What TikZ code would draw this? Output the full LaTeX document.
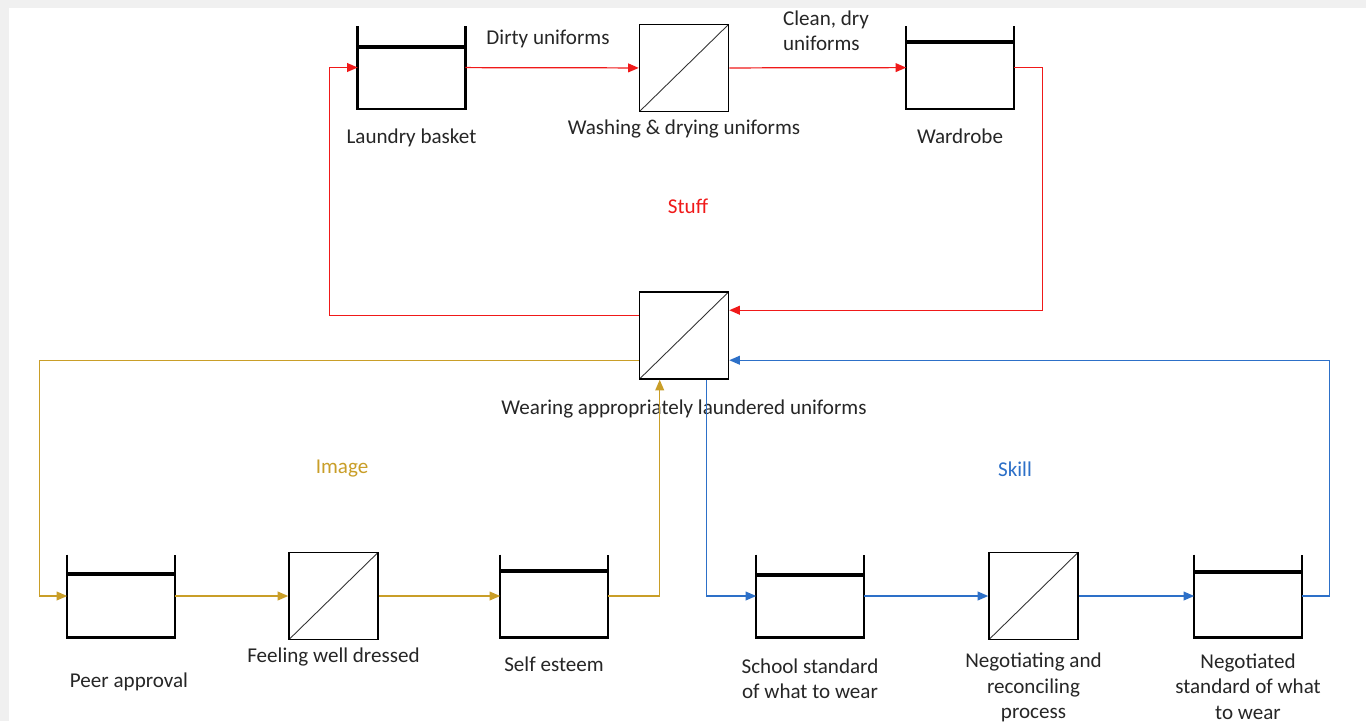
\documentclass[tikz,border=0pt,12pt]{standalone}
\usepackage{fontspec}
\setmainfont{Carlito}
\usetikzlibrary{positioning,arrows.meta}
\definecolor{stuffred}{RGB}{240,25,25}
\definecolor{imagegold}{RGB}{201,158,40}
\definecolor{skillblue}{RGB}{45,112,200}
\definecolor{pagegray}{RGB}{240,240,240}
\definecolor{labelgray}{RGB}{38,38,38}

\tikzset{
  stock/.style={minimum width=2.14cm, minimum height=1.64cm, inner sep=0pt,
    append after command={\pgfextra{\let\stocknode\tikzlastnode
      \draw[line width=1.4pt] (\stocknode.north west) -- (\stocknode.south west) -- (\stocknode.south east) -- (\stocknode.north east);
      \draw[line width=2.2pt] ([yshift=-#1]\stocknode.north west) -- ([yshift=-#1]\stocknode.north east);}}},
  stock/.default=0.38cm,
  valve/.style={draw, line width=0.9pt, minimum width=1.78cm, minimum height=1.74cm, inner sep=0pt,
    path picture={\draw[line width=0.5pt, black!80] (path picture bounding box.south west) -- (path picture bounding box.north east);}},
  lbl/.style={inner sep=0pt, text=labelgray, align=center},
  flow/.style={line width=0.7pt, -{Triangle[length=6pt,width=5pt]}},
}

\begin{document}
\begin{tikzpicture}[x=0.02cm, y=-0.02cm, font=\fontsize{12}{14.5}\selectfont]
  \useasboundingbox (0,0) rectangle (1366,721);
  \fill[pagegray] (0,0) rectangle (1366,721);
  \fill[white] (9,8) rectangle (1366,721);

  % stuff
  \node[stock=0.42cm] (basket) at (411.5,67.5) {};
  \node[valve] (washing) at (684,68) {};
  \node[stock=0.32cm] (wardrobe) at (960,67.5) {};
  \node[valve] (wearing) at (684,335.5) {};
  % image
  \node[stock=0.38cm] (peer) at (121,596) {};
  \node[valve] (feeling) at (333.5,596) {};
  \node[stock=0.32cm] (esteem) at (554,596) {};
  % skill
  \node[stock=0.40cm] (school) at (810,596) {};
  \node[valve] (negotiating) at (1033.5,596) {};
  \node[stock=0.34cm] (negotiated) at (1248,596) {};

  \node[lbl, below=11pt of basket] (basketlbl) {Laundry basket};
  \node[lbl, below=4pt of washing] (washinglbl) {Washing \& drying uniforms};
  \node[lbl, below=11pt of wardrobe] (wardrobelbl) {Wardrobe};
  \node[lbl, below=11pt of wearing] (wearinglbl) {Wearing appropriately laundered uniforms};
  \node[lbl, below=20pt of peer, xshift=0.16cm] (peerlbl) {Peer approval};
  \node[lbl, below=4pt of feeling] (feelinglbl) {Feeling well dressed};
  \node[lbl, below=11pt of esteem] (esteemlbl) {Self esteem};
  \node[lbl, below=12pt of school] (schoollbl) {School standard\\of what to wear};
  \node[lbl, below=7pt of negotiating] (negotiatinglbl) {Negotiating and\\reconciling\\process};
  \node[lbl, below=9pt of negotiated] (negotiatedlbl) {Negotiated\\standard of what\\to wear};

  \node[lbl] (dirtylbl) at (548,39) {Dirty uniforms};
  \node[lbl, align=left] (cleanlbl) at (826,31) {Clean, dry\\uniforms};
  \node[lbl, text=stuffred] (stufflbl) at (688,206) {Stuff};
  \node[lbl, text=imagegold] (imagelbl) at (342,469) {Image};
  \node[lbl, text=skillblue] (skilllbl) at (1015,469) {Skill};

  \draw[flow, stuffred] (basket) -- (washing);
  \draw[flow, stuffred] (washing) -- (wardrobe);
  \draw[flow, stuffred] (wardrobe.east) -- ++(29,0) |- ([yshift=-0.38cm]wearing.north east);
  \draw[flow, stuffred] ([yshift=-0.48cm]wearing.north west) -| ([xshift=-0.56cm]basket.west) -- (basket.west);

  \draw[flow, imagegold] ([yshift=-1.38cm]wearing.north west) -| ([xshift=-0.56cm]peer.west) -- (peer.west);
  \draw[flow, imagegold] (peer) -- (feeling);
  \draw[flow, imagegold] (feeling) -- (esteem);
  \draw[flow, imagegold] (esteem.east) -| ([xshift=0.42cm]wearing.south west);

  \draw[flow, skillblue] ([xshift=-0.46cm]wearing.south east) |- (school.west);
  \draw[flow, skillblue] (school) -- (negotiating);
  \draw[flow, skillblue] (negotiating) -- (negotiated);
  \draw[flow, skillblue] (negotiated.east) -- ++(28,0) |- ([yshift=-1.38cm]wearing.north east);
\end{tikzpicture}
\end{document}
